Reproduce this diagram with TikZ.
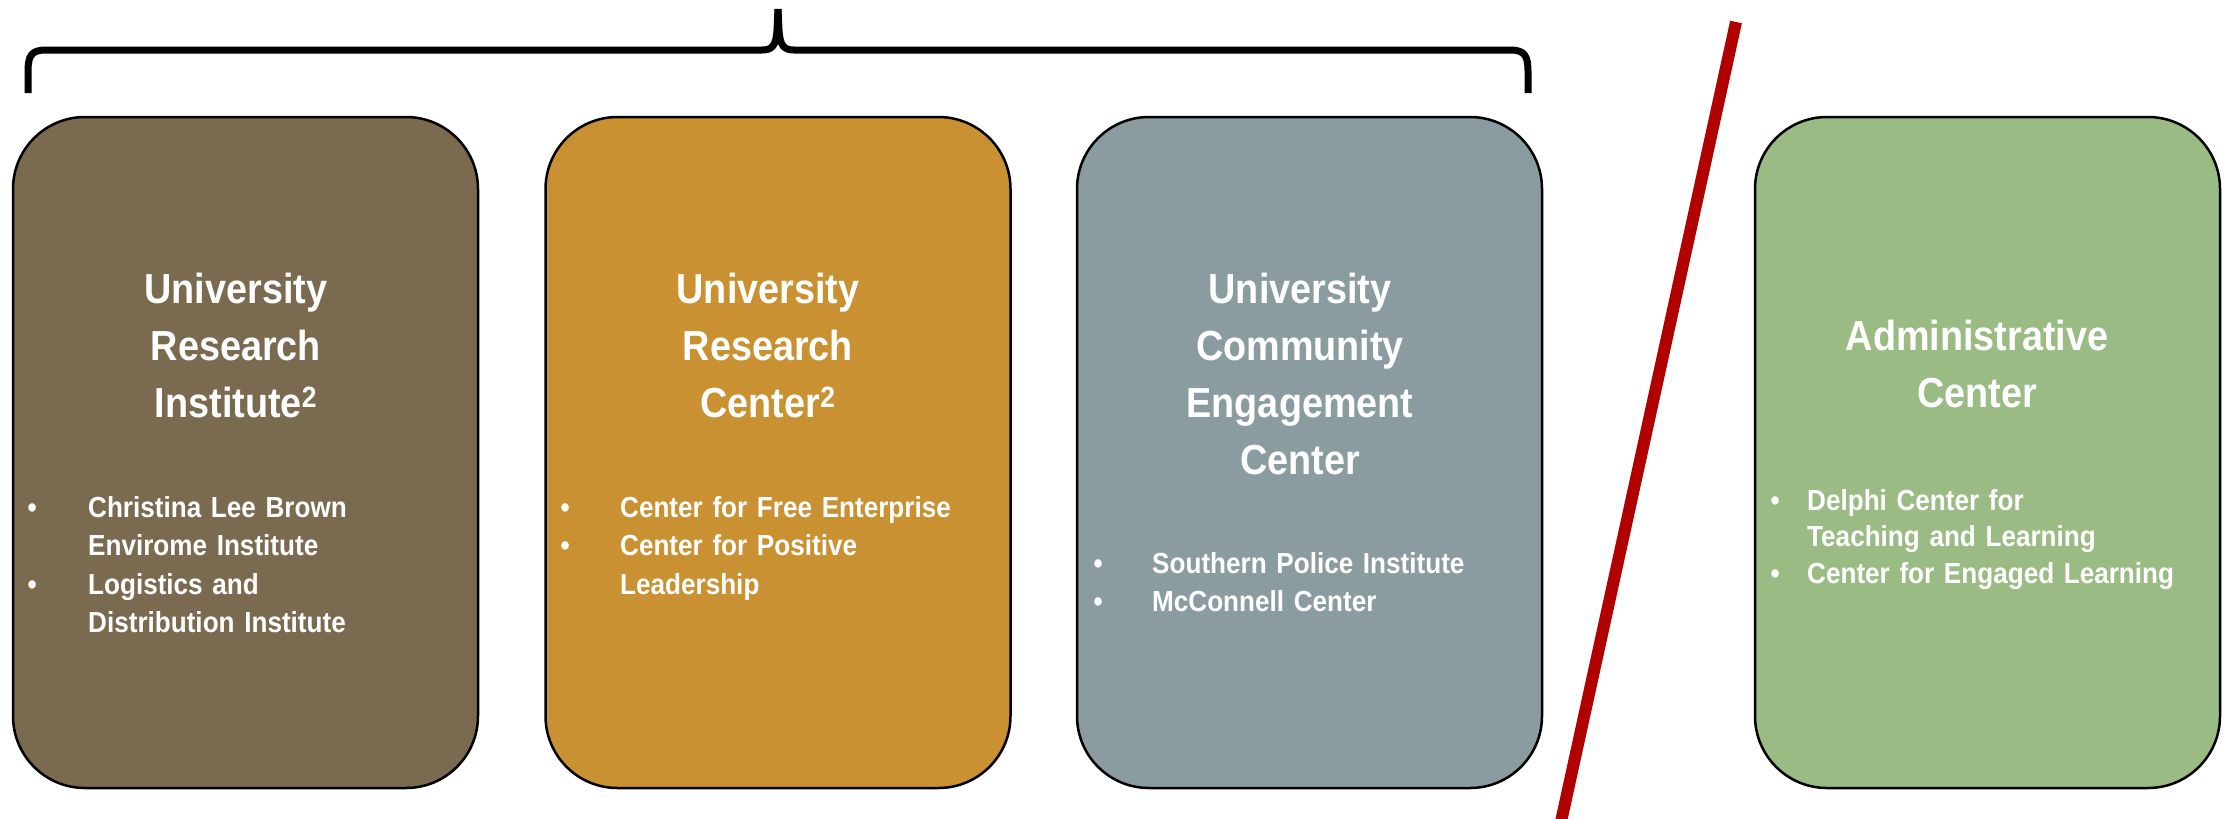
\documentclass[tikz,border=0pt]{standalone}
\usepackage{fontspec}
\setmainfont{Liberation Sans}[FakeStretch=0.9]
\definecolor{uribrown}{RGB}{122,107,80}
\definecolor{urcgold}{RGB}{201,145,49}
\definecolor{ucecgray}{RGB}{139,156,160}
\definecolor{admgreen}{RGB}{155,187,133}
\definecolor{cutred}{RGB}{176,0,0}
\newcommand{\bul}[1]{\makebox[#1][l]{\textbullet}}

\begin{document}
\begin{tikzpicture}[x=1pt,y=-1pt,
  unit/.style={draw=black, line width=2.5pt, rounded corners=72pt, minimum width=465pt, minimum height=671pt, inner sep=0pt},
  title/.style={text=white, font=\bfseries\fontsize{42}{57}\selectfont, text width=440pt, align=center, anchor=base, inner sep=0pt},
  items/.style={text=white, font=\bfseries\fontsize{29}{38.5}\selectfont, text width=430pt, align=left, anchor=base west, inner sep=0pt}]
\useasboundingbox (0,0) rectangle (2233,819);

% the four units
\node[unit, fill=uribrown]  (uri)  at (245.5,452.5) {};
\node[unit, fill=urcgold]   (urc)  at (778,452.5)   {};
\node[unit, fill=ucecgray]  (ucec) at (1309.5,452.5) {};
\node[unit, fill=admgreen]  (adm)  at (1987.5,452.5) {};

% titles
\node[title] (uriT)  at (236,303)  {University\\Research\\Institute\textsuperscript{2}};
\node[title] (urcT)  at (768,303)  {University\\Research\\Center\textsuperscript{2}};
\node[title] (ucecT) at (1300,303) {University\\Community\\Engagement\\Center};
\node[title] (admT)  at (1977,350) {Administrative\\Center};

% member lists
\node[items] (uriL) at (27.5,517) {\bul{60.5pt}Christina Lee Brown\\\hspace*{60.5pt}Envirome Institute\\\bul{60.5pt}Logistics and\\\hspace*{60.5pt}Distribution Institute};
\node[items] (urcL) at (560.5,517) {\bul{59.5pt}Center for Free Enterprise\\\bul{59.5pt}Center for Positive\\\hspace*{59.5pt}Leadership};
\node[items] (ucecL) at (1093.5,573) {\bul{58.5pt}Southern Police Institute\\\bul{58.5pt}McConnell Center};
\node[items, font=\bfseries\fontsize{29}{36.5}\selectfont] (admL) at (1770.5,510) {\bul{36.5pt}Delphi Center for\\\hspace*{36.5pt}Teaching and Learning\\\bul{36.5pt}Center for Engaged Learning};

% brace over the three university units
\draw[line width=7pt, line join=round] (28,93) -- (28,72) .. controls (28,56) and (31,50) .. (46,50) -- (762,50) .. controls (772,50) and (776,46) .. (777,30) -- (778,9);
\draw[line width=7pt, line join=round] (1528,93) -- (1528,72) .. controls (1528,56) and (1525,50) .. (1510,50) -- (794,50) .. controls (784,50) and (780,46) .. (779,30) -- (778,9);

% divider
\draw[cutred, line width=12pt] (1736,22) -- (1557,840);
\end{tikzpicture}
\end{document}
